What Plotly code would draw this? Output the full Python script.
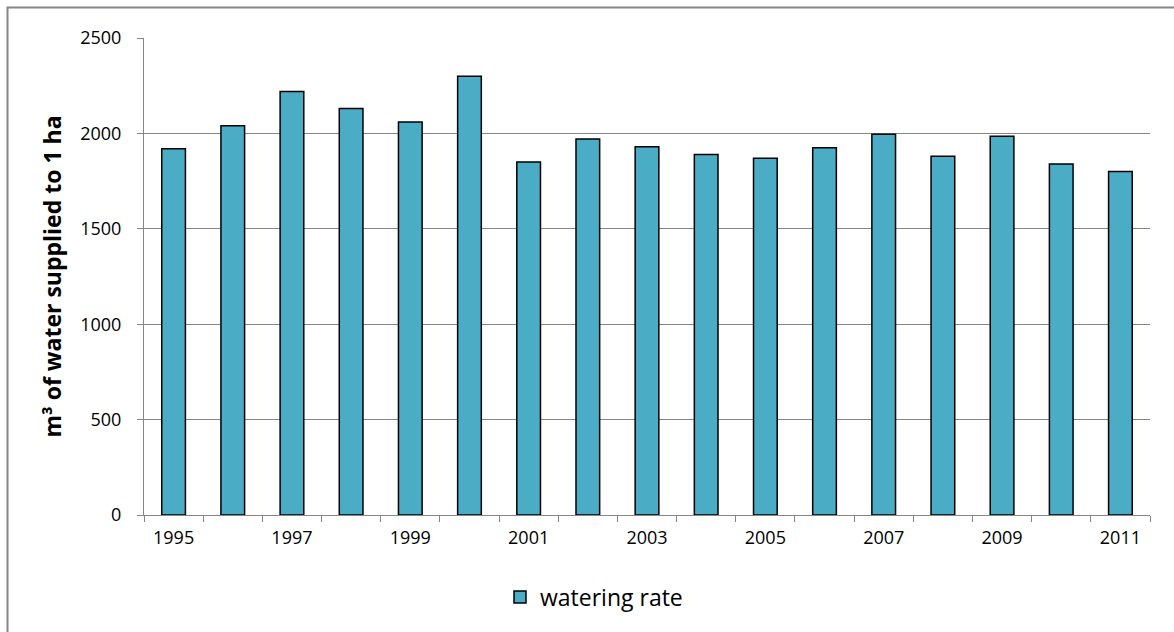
import plotly.graph_objects as go

# Irrigation water supply per hectare, 1995-2011
years = [str(y) for y in range(1995, 2012)]
watering_rate = [1920, 2040, 2220, 2130, 2060, 2300, 1850, 1970, 1930,
                 1890, 1870, 1925, 1995, 1880, 1985, 1840, 1800]
tick_labels = [y if int(y) % 2 == 1 else "" for y in years]

series_name = "watering rate"
y_title = "m³ of water supplied to 1 ha"

W, H = 1174, 632
ML, MR, MT, MB = 144, 24, 38, 117
pw, ph = W - ML - MR, H - MT - MB

grey = "#868686"
font_family = "Open Sans"

fig = go.Figure()
fig.add_trace(go.Bar(
    x=years,
    y=watering_rate,
    name=series_name,
    width=0.4,
    marker=dict(color="#4BACC6", line=dict(color="#000000", width=1.5)),
    showlegend=True,
))

fig.update_layout(
    width=W,
    height=H,
    margin=dict(l=ML, r=MR, t=MT, b=MB),
    paper_bgcolor="white",
    plot_bgcolor="white",
    font=dict(family=font_family, color="#000000", size=18),
    showlegend=True,
    legend=dict(
        orientation="h",
        x=(500 - ML) / pw,
        xanchor="left",
        y=(ph + MT - 597) / ph,
        yanchor="middle",
        font=dict(size=23, family=font_family),
        bgcolor="rgba(0,0,0,0)",
    ),
    bargap=0.6,
)

fig.update_xaxes(
    type="category",
    tickmode="array",
    tickvals=years,
    ticktext=tick_labels,
    tickson="boundaries",
    ticks="outside",
    ticklen=6,
    tickcolor=grey,
    showline=True,
    linecolor=grey,
    linewidth=1,
    showgrid=False,
    tickfont=dict(size=18),
    ticklabelstandoff=6,
)

fig.update_yaxes(
    range=[0, 2500],
    dtick=500,
    tick0=0,
    ticks="outside",
    ticklen=6,
    tickcolor=grey,
    showline=True,
    linecolor=grey,
    linewidth=1,
    showgrid=True,
    gridcolor=grey,
    gridwidth=1,
    zeroline=False,
    tickfont=dict(size=18),
    ticklabelstandoff=12,
    title=dict(text="<b>" + y_title + "</b>", font=dict(size=23, family=font_family), standoff=12),
)

# Chart frame (left and top edges visible)
fig.add_shape(
    type="rect",
    xref="paper", yref="paper",
    x0=(7.5 - ML) / pw, x1=(W + 20 - ML) / pw,
    y0=(ph + MT - (H + 20)) / ph, y1=(ph + MT - 7.5) / ph,
    line=dict(color=grey, width=2),
    fillcolor="rgba(0,0,0,0)",
    layer="below",
)

fig.write_html("out.html")
